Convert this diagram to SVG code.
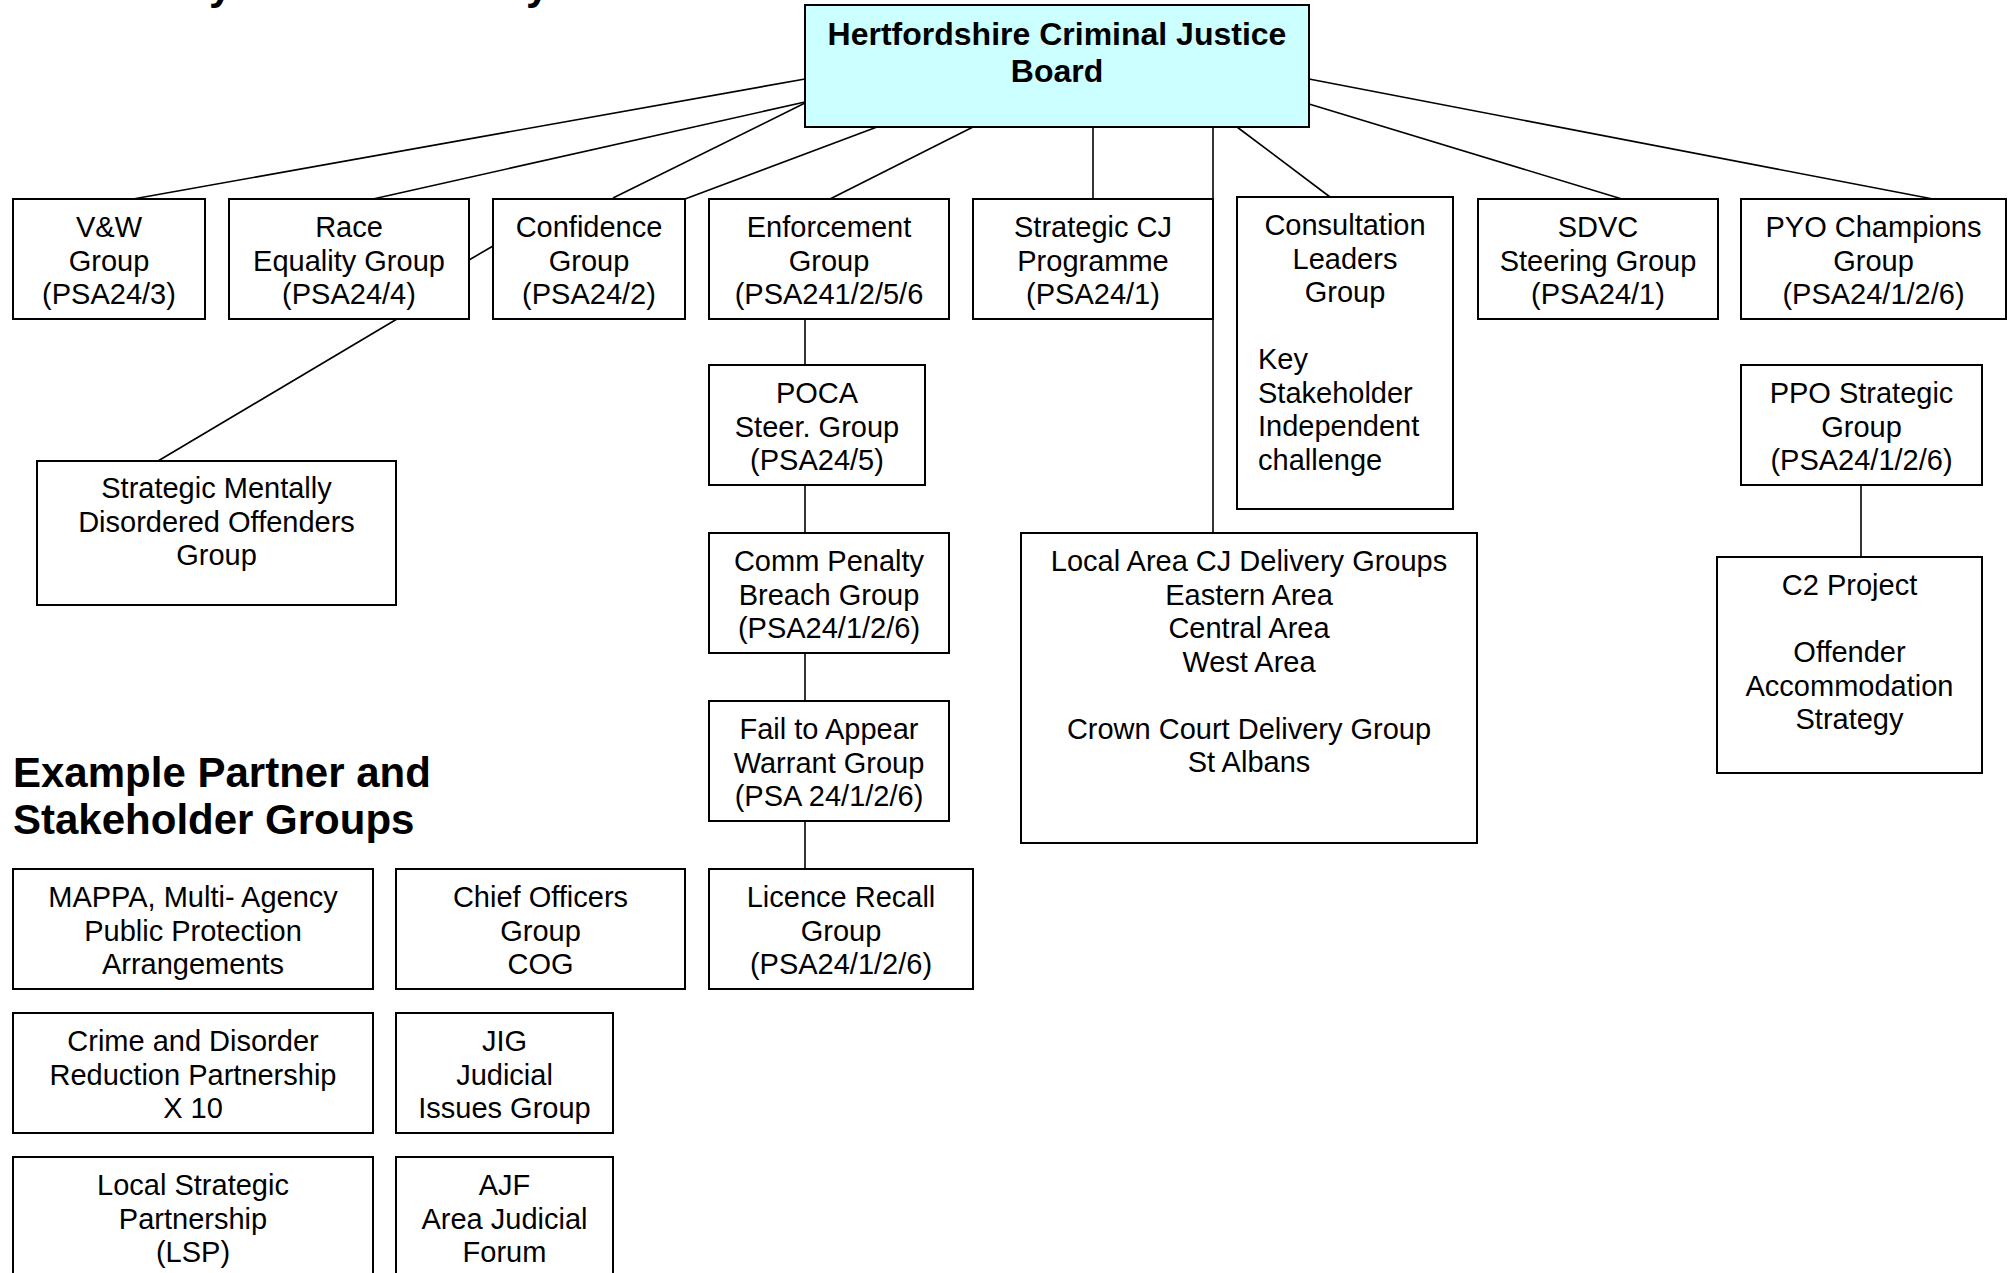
<svg xmlns="http://www.w3.org/2000/svg" width="2011" height="1273" viewBox="0 0 2011 1273">
<style>
  .box { fill: #ffffff; stroke: #000000; stroke-width: 2; }
  .main { fill: #ccffff; stroke: #000000; stroke-width: 2; }
  .t { font-family: "Liberation Sans", Arial, sans-serif; font-size: 29px; fill: #000000; text-anchor: middle; }
  .tl { font-family: "Liberation Sans", Arial, sans-serif; font-size: 29px; fill: #000000; text-anchor: start; }
  .tb { font-family: "Liberation Sans", Arial, sans-serif; font-size: 32px; font-weight: bold; fill: #000000; text-anchor: middle; }
  .h { font-family: "Liberation Sans", Arial, sans-serif; font-size: 42px; font-weight: bold; fill: #000000; }
  .c { stroke: #000000; stroke-width: 1.6; fill: none; }
</style>
<rect x="0" y="0" width="2011" height="1273" fill="#ffffff"/>

<g id="title-fragment">
  <text class="h" x="209" y="-1">y</text>
  <text class="h" x="526" y="-1">y</text>
</g>

<g id="connectors">
  <line class="c" x1="133" y1="199" x2="805" y2="79"/>
  <line class="c" x1="373" y1="199" x2="805" y2="102"/>
  <line class="c" x1="613" y1="198" x2="805" y2="103"/>
  <line class="c" x1="685" y1="199" x2="877" y2="127"/>
  <line class="c" x1="830" y1="199" x2="973" y2="127"/>
  <line class="c" x1="1093" y1="127" x2="1093" y2="199"/>
  <line class="c" x1="1213" y1="124" x2="1213" y2="533"/>
  <line class="c" x1="1237" y1="127" x2="1330" y2="197"/>
  <line class="c" x1="1309" y1="104" x2="1622" y2="199"/>
  <line class="c" x1="1309" y1="79" x2="1933" y2="199"/>
  <line class="c" x1="469" y1="260" x2="493" y2="246"/>
  <line class="c" x1="397" y1="319" x2="158" y2="461"/>
  <line class="c" x1="805" y1="319" x2="805" y2="365"/>
  <line class="c" x1="805" y1="485" x2="805" y2="533"/>
  <line class="c" x1="805" y1="653" x2="805" y2="701"/>
  <line class="c" x1="805" y1="821" x2="805" y2="869"/>
  <line class="c" x1="1861" y1="485" x2="1861" y2="557"/>
</g>

<g id="hcjb">
  <rect class="main" x="805" y="5" width="504" height="122"/>
  <text class="tb" x="1057" y="45">Hertfordshire Criminal Justice</text>
  <text class="tb" x="1057" y="82">Board</text>
</g>

<g id="vw">
  <rect class="box" x="13" y="199" width="192" height="120"/>
  <text class="t" x="109" y="237">V&amp;W</text>
  <text class="t" x="109" y="270.5">Group</text>
  <text class="t" x="109" y="304">(PSA24/3)</text>
</g>

<g id="race">
  <rect class="box" x="229" y="199" width="240" height="120"/>
  <text class="t" x="349" y="237">Race</text>
  <text class="t" x="349" y="270.5">Equality Group</text>
  <text class="t" x="349" y="304">(PSA24/4)</text>
</g>

<g id="confidence">
  <rect class="box" x="493" y="199" width="192" height="120"/>
  <text class="t" x="589" y="237">Confidence</text>
  <text class="t" x="589" y="270.5">Group</text>
  <text class="t" x="589" y="304">(PSA24/2)</text>
</g>

<g id="enforcement">
  <rect class="box" x="709" y="199" width="240" height="120"/>
  <text class="t" x="829" y="237">Enforcement</text>
  <text class="t" x="829" y="270.5">Group</text>
  <text class="t" x="829" y="304">(PSA241/2/5/6</text>
</g>

<g id="strategic-cj">
  <rect class="box" x="973" y="199" width="240" height="120"/>
  <text class="t" x="1093" y="237">Strategic CJ</text>
  <text class="t" x="1093" y="270.5">Programme</text>
  <text class="t" x="1093" y="304">(PSA24/1)</text>
</g>

<g id="consultation">
  <rect class="box" x="1237" y="197" width="216" height="312"/>
  <text class="t" x="1345" y="235">Consultation</text>
  <text class="t" x="1345" y="268.5">Leaders</text>
  <text class="t" x="1345" y="302">Group</text>
  <text class="tl" x="1258" y="369">Key</text>
  <text class="tl" x="1258" y="402.5">Stakeholder</text>
  <text class="tl" x="1258" y="436">Independent</text>
  <text class="tl" x="1258" y="469.5">challenge</text>
</g>

<g id="sdvc">
  <rect class="box" x="1478" y="199" width="240" height="120"/>
  <text class="t" x="1598" y="237">SDVC</text>
  <text class="t" x="1598" y="270.5">Steering Group</text>
  <text class="t" x="1598" y="304">(PSA24/1)</text>
</g>

<g id="pyo">
  <rect class="box" x="1741" y="199" width="265" height="120"/>
  <text class="t" x="1873.5" y="237">PYO Champions</text>
  <text class="t" x="1873.5" y="270.5">Group</text>
  <text class="t" x="1873.5" y="304">(PSA24/1/2/6)</text>
</g>

<g id="mdo">
  <rect class="box" x="37" y="461" width="359" height="144"/>
  <text class="t" x="216.5" y="498">Strategic Mentally</text>
  <text class="t" x="216.5" y="531.5">Disordered Offenders</text>
  <text class="t" x="216.5" y="565">Group</text>
</g>

<g id="poca">
  <rect class="box" x="709" y="365" width="216" height="120"/>
  <text class="t" x="817" y="403">POCA</text>
  <text class="t" x="817" y="436.5">Steer. Group</text>
  <text class="t" x="817" y="470">(PSA24/5)</text>
</g>

<g id="comm-penalty">
  <rect class="box" x="709" y="533" width="240" height="120"/>
  <text class="t" x="829" y="571">Comm Penalty</text>
  <text class="t" x="829" y="604.5">Breach Group</text>
  <text class="t" x="829" y="638">(PSA24/1/2/6)</text>
</g>

<g id="fail-to-appear">
  <rect class="box" x="709" y="701" width="240" height="120"/>
  <text class="t" x="829" y="739">Fail to Appear</text>
  <text class="t" x="829" y="772.5">Warrant Group</text>
  <text class="t" x="829" y="806">(PSA 24/1/2/6)</text>
</g>

<g id="licence-recall">
  <rect class="box" x="709" y="869" width="264" height="120"/>
  <text class="t" x="841" y="907">Licence Recall</text>
  <text class="t" x="841" y="940.5">Group</text>
  <text class="t" x="841" y="974">(PSA24/1/2/6)</text>
</g>

<g id="local-area">
  <rect class="box" x="1021" y="533" width="456" height="310"/>
  <text class="t" x="1249" y="571">Local Area CJ Delivery Groups</text>
  <text class="t" x="1249" y="604.5">Eastern Area</text>
  <text class="t" x="1249" y="638">Central Area</text>
  <text class="t" x="1249" y="671.5">West Area</text>
  <text class="t" x="1249" y="738.5">Crown Court Delivery Group</text>
  <text class="t" x="1249" y="772">St Albans</text>
</g>

<g id="ppo">
  <rect class="box" x="1741" y="365" width="241" height="120"/>
  <text class="t" x="1861.5" y="403">PPO Strategic</text>
  <text class="t" x="1861.5" y="436.5">Group</text>
  <text class="t" x="1861.5" y="470">(PSA24/1/2/6)</text>
</g>

<g id="c2">
  <rect class="box" x="1717" y="557" width="265" height="216"/>
  <text class="t" x="1849.5" y="595">C2 Project</text>
  <text class="t" x="1849.5" y="662">Offender</text>
  <text class="t" x="1849.5" y="695.5">Accommodation</text>
  <text class="t" x="1849.5" y="729">Strategy</text>
</g>

<g id="heading">
  <text class="h" x="13" y="787">Example Partner and</text>
  <text class="h" x="13" y="834">Stakeholder Groups</text>
</g>

<g id="mappa">
  <rect class="box" x="13" y="869" width="360" height="120"/>
  <text class="t" x="193" y="907">MAPPA, Multi- Agency</text>
  <text class="t" x="193" y="940.5">Public Protection</text>
  <text class="t" x="193" y="974">Arrangements</text>
</g>

<g id="chief-officers">
  <rect class="box" x="396" y="869" width="289" height="120"/>
  <text class="t" x="540.5" y="907">Chief Officers</text>
  <text class="t" x="540.5" y="940.5">Group</text>
  <text class="t" x="540.5" y="974">COG</text>
</g>

<g id="crime-disorder">
  <rect class="box" x="13" y="1013" width="360" height="120"/>
  <text class="t" x="193" y="1051">Crime and Disorder</text>
  <text class="t" x="193" y="1084.5">Reduction Partnership</text>
  <text class="t" x="193" y="1118">X 10</text>
</g>

<g id="jig">
  <rect class="box" x="396" y="1013" width="217" height="120"/>
  <text class="t" x="504.5" y="1051">JIG</text>
  <text class="t" x="504.5" y="1084.5">Judicial</text>
  <text class="t" x="504.5" y="1118">Issues Group</text>
</g>

<g id="lsp">
  <rect class="box" x="13" y="1157" width="360" height="130"/>
  <text class="t" x="193" y="1195">Local Strategic</text>
  <text class="t" x="193" y="1228.5">Partnership</text>
  <text class="t" x="193" y="1262">(LSP)</text>
</g>

<g id="ajf">
  <rect class="box" x="396" y="1157" width="217" height="130"/>
  <text class="t" x="504.5" y="1195">AJF</text>
  <text class="t" x="504.5" y="1228.5">Area Judicial</text>
  <text class="t" x="504.5" y="1262">Forum</text>
</g>
</svg>
